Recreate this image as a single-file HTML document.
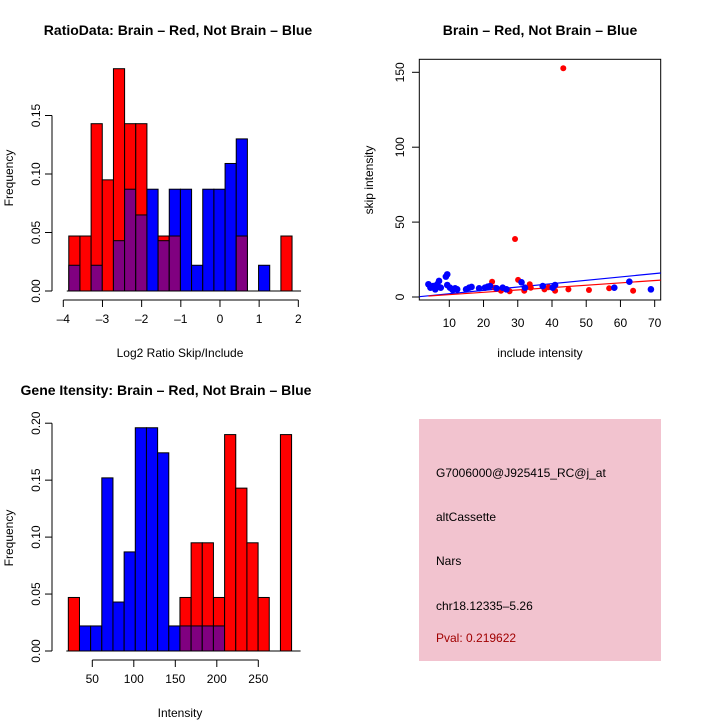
<!DOCTYPE html>
<html><head><meta charset="utf-8"><style>
body{margin:0;background:#fff}
svg{display:block;font-family:"Liberation Sans",sans-serif}
</style></head><body>
<svg id="c" width="720" height="720" viewBox="0 0 720 720">
<rect width="720" height="720" fill="#fff"/>
<text x="178" y="35" font-size="14" font-weight="bold" text-anchor="middle">RatioData: Brain – Red, Not Brain – Blue</text>
<text x="540" y="35" font-size="14" font-weight="bold" text-anchor="middle">Brain – Red, Not Brain – Blue</text>
<text x="166" y="395" font-size="14" font-weight="bold" text-anchor="middle">Gene Itensity: Brain – Red, Not Brain – Blue</text>
<g id="p1"></g>
<g id="p2"></g>
<g id="p3"></g>
<g>
<rect x="419" y="419" width="242" height="242" fill="#f2c3cf"/>
<text x="436" y="477" font-size="12">G7006000@J925415_RC@j_at</text>
<text x="436" y="521" font-size="12">altCassette</text>
<text x="436" y="565" font-size="12">Nars</text>
<text x="436" y="610" font-size="12">chr18.12335–5.26</text>
<text x="436" y="642" font-size="12" fill="#a00000">Pval: 0.219622</text>
</g>
</svg>
<script>
// Ratio histogram data
const ratioBinStart = -3.86, ratioBinWidth = 0.285;
const ratioRed  = [0.047,0.047,0.143,0.095,0.19,0.143,0.143,0,0.047,0.047,0,0,0,0,0,0.047,0,0,0,0.047];
const ratioBlue = [0.022,0,0.022,0,0.043,0.087,0.065,0.087,0.043,0.087,0.087,0.022,0.087,0.087,0.109,0.13,0,0.022,0,0];
const ratioXTicks = [-4,-3,-2,-1,0,1,2];
const ratioYTicks = [0,0.05,0.10,0.15];
const ratioYLabels = ["0.00","0.05","0.10","0.15"];
// Intensity histogram data
const intBinStart = 21.1, intBinWidth = 13.45;
const intRed  = [0.047,0,0,0,0,0,0,0,0,0,0.047,0.095,0.095,0.047,0.19,0.143,0.095,0.047,0,0.19];
const intBlue = [0,0.022,0.022,0.152,0.043,0.087,0.196,0.196,0.174,0.022,0.022,0.022,0.022,0.022,0,0,0,0,0,0];
const intXTicks = [50,100,150,200,250];
const intYTicks = [0,0.05,0.10,0.15,0.20];
const intYLabels = ["0.00","0.05","0.10","0.15","0.20"];
// Scatter data
const redX = [22.5,43.3,29.2,30.1,31.9,33.5,33.8,23.3,25.1,27.6,37.8,39,40.9,44.8,50.8,56.7,63.7];
const redY = [10.2,152.7,38.7,11.4,4.2,8.5,6.2,6.2,4.2,3.8,5.1,6.5,4.2,5.1,4.7,5.8,4.2];
const blueX = [3.9,4.5,5.3,5.9,6.5,7.0,7.5,9.0,9.4,9.4,10.2,11,11.7,12.3,14.9,15.8,16.5,18.7,20.4,21.2,21.9,23.8,25.6,26.7,31.1,32.1,37.3,40.2,40.9,58.2,62.6,68.9];
const blueY = [8.5,6.2,7.3,5.1,8.5,10.7,6.2,13.6,15.1,8.0,6.2,4.7,5.8,5.1,5.1,6.2,6.7,5.8,6.2,6.9,7.3,5.8,6.2,5.1,9.8,6.2,7.3,6.2,8.0,6.2,10.2,5.1];
const blueFit = [-0.05,0.224];  // intercept, slope
const redFit = [0.0,0.157];
const scatXTicks = [10,20,30,40,50,60,70];
const scatYTicks = [0,50,100,150];

const NS="http://www.w3.org/2000/svg";
function mk(parent,tag,attrs){const e=document.createElementNS(NS,tag);for(const k in attrs)e.setAttribute(k,attrs[k]);parent.appendChild(e);return e;}

function hist(g,o){
  const sx=v=>o.x0+(v-o.v0)*o.kx, sy=v=>o.y0-v*o.ky;
  for(let i=0;i<o.red.length;i++){
    const a=o.binStart+i*o.binW, b=a+o.binW, r=o.red[i], bl=o.blue[i];
    const hi=Math.max(r,bl), lo=Math.min(r,bl);
    if(hi<=0) continue;
    const x=sx(a), w=sx(b)-sx(a);
    const top=mk(g,'rect',{x:x,y:sy(hi),width:w,height:sy(0)-sy(hi),fill:r>=bl?'#ff0000':'#0000ff',stroke:'#000','stroke-width':1});
    
    
    if(lo>0){
      const p=mk(g,'rect',{x:x,y:sy(lo),width:w,height:sy(0)-sy(lo),fill:'#800080',stroke:'#000','stroke-width':1});
      
      
    }
  }
  mk(g,'line',{x1:sx(o.binStart)-2,x2:sx(o.binStart+o.red.length*o.binW)+9,y1:sy(0),y2:sy(0),stroke:'#000'});
  // x axis
  const ax=o.y0+9;
  mk(g,'line',{x1:sx(o.xt[0]),x2:sx(o.xt[o.xt.length-1]),y1:ax,y2:ax,stroke:'#000'});
  o.xt.forEach(t=>{mk(g,'line',{x1:sx(t),x2:sx(t),y1:ax,y2:ax+7,stroke:'#000'});
    const tx=mk(g,'text',{x:sx(t),y:ax+23,'font-size':12,'text-anchor':'middle'});tx.textContent=String(t).replace('-','–');
    
    });
  // y axis
  const yx=o.yAxisX;
  mk(g,'line',{x1:yx,x2:yx,y1:sy(o.yt[0]),y2:sy(o.yt[o.yt.length-1]),stroke:'#000'});
  o.yt.forEach((t,i)=>{mk(g,'line',{x1:yx-7,x2:yx,y1:sy(t),y2:sy(t),stroke:'#000'});
    const tx=mk(g,'text',{x:yx-12,y:sy(t),'font-size':12,'text-anchor':'middle',transform:`rotate(-90 ${yx-12} ${sy(t)})`});tx.textContent=o.yl[i];
    
    });
  const xl=mk(g,'text',{x:o.xlx,y:o.xly,'font-size':12,'text-anchor':'middle'});xl.textContent=o.xlab;
  
  
  const yl=mk(g,'text',{x:13,y:o.yly,'font-size':12,'text-anchor':'middle',transform:`rotate(-90 13 ${o.yly})`});yl.textContent='Frequency';
  
  
}
hist(document.getElementById('p1'),{red:ratioRed,blue:ratioBlue,binStart:ratioBinStart,binW:ratioBinWidth,
  x0:63.3,v0:-4,kx:39.17,y0:291,ky:1170,xt:ratioXTicks,yt:ratioYTicks,yl:ratioYLabels,yAxisX:52,
  xlab:'Log2 Ratio Skip/Include',xlx:180,xly:357,yly:178});
hist(document.getElementById('p3'),{red:intRed,blue:intBlue,binStart:intBinStart,binW:intBinWidth,
  x0:92.3,v0:50,kx:0.83,y0:651,ky:1139,xt:intXTicks,yt:intYTicks,yl:intYLabels,yAxisX:52,
  xlab:'Intensity',xlx:180,xly:717,yly:538});

// scatter
(function(){
  const g=document.getElementById('p2');
  const sx=v=>449.3+(v-10)*3.423, sy=v=>297-v*1.498;
  mk(g,'rect',{x:419.3,y:59.3,width:241.4,height:240.7,fill:'none',stroke:'#000'});
  const xmin=(419.3-449.3)/3.423+10, xmax=(660.7-449.3)/3.423+10;
  [[blueFit,'#0000ff','blue-fit-line'],[redFit,'#ff0000','red-fit-line']].forEach(([f,c,n])=>{
    const x1=n==='red-fit-line'?3.9:xmin;
    const l=mk(g,'line',{x1:sx(x1),y1:sy(f[0]+f[1]*x1),x2:sx(xmax),y2:sy(f[0]+f[1]*xmax),stroke:c,'stroke-width':1.2});
    
    
  });
  redX.forEach((x,i)=>{const c=mk(g,'circle',{cx:sx(x),cy:sy(redY[i]),r:3,fill:'#ff0000'});
    
    });
  blueX.forEach((x,i)=>{const c=mk(g,'circle',{cx:sx(x),cy:sy(blueY[i]),r:3.3,fill:'#0000ff'});
    
    });
  scatXTicks.forEach(t=>{mk(g,'line',{x1:sx(t),x2:sx(t),y1:300,y2:307,stroke:'#000'});
    const tx=mk(g,'text',{x:sx(t),y:327,'font-size':12,'text-anchor':'middle'});tx.textContent=t;
    
    });
  scatYTicks.forEach(t=>{mk(g,'line',{x1:412,x2:419.3,y1:sy(t),y2:sy(t),stroke:'#000'});
    const tx=mk(g,'text',{x:404,y:sy(t),'font-size':12,'text-anchor':'middle',transform:`rotate(-90 404 ${sy(t)})`});tx.textContent=t;
    
    });
  const xl=mk(g,'text',{x:540,y:357,'font-size':12,'text-anchor':'middle'});xl.textContent='include intensity';
  
  
  const yl=mk(g,'text',{x:373,y:180,'font-size':12,'text-anchor':'middle',transform:'rotate(-90 373 180)'});yl.textContent='skip intensity';
  
  
})();
</script>
</body></html>
